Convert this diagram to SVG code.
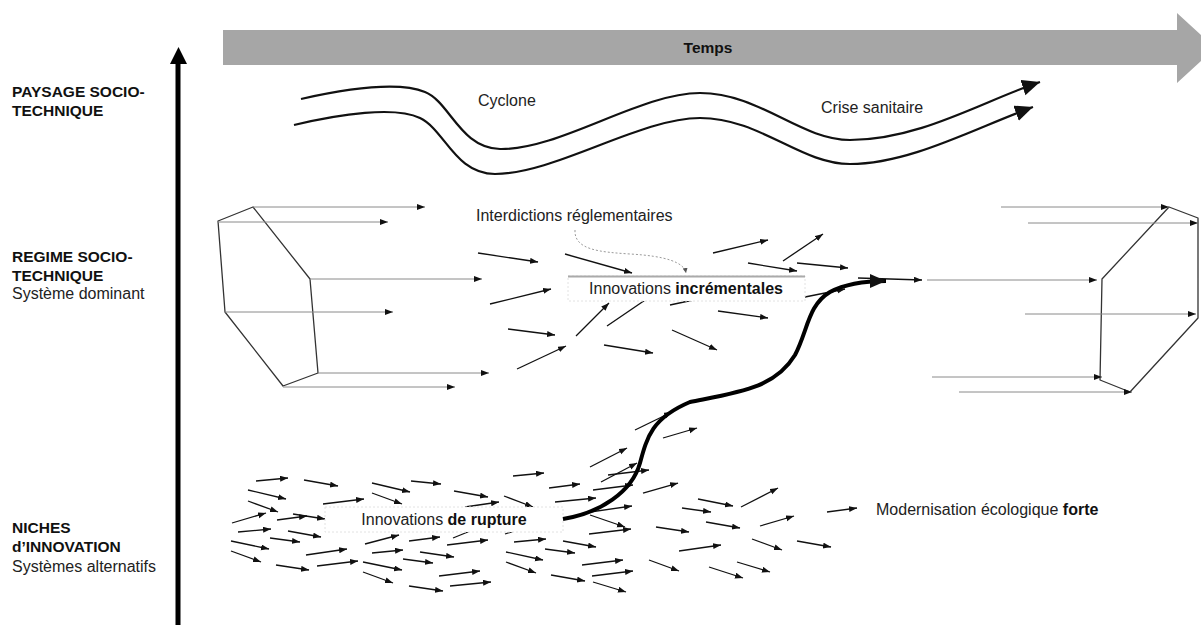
<svg xmlns="http://www.w3.org/2000/svg" width="1201" height="625" viewBox="0 0 1201 625">
  <style>
    .lbl { font-family: "Liberation Sans", Arial, sans-serif; fill: #111; }
    .hd { font-size: 15.5px; font-weight: bold; }
    .sub { font-size: 16px; fill: #222; }
    .txt { font-family: "Liberation Sans", Arial, sans-serif; font-size: 16px; fill: #222; }
    .b { font-weight: bold; fill: #111; }
    .wave { fill: none; stroke: #111; stroke-width: 2.2; marker-end: url(#bigHead); }
    .poly { fill: none; stroke: #333; stroke-width: 1.3; stroke-linejoin: round; }
    .feed { stroke: #8a8a8a; stroke-width: 1; marker-end: url(#smallHead); }
    .arr { stroke: #111; stroke-width: 1.3; marker-end: url(#smallHead); }
    .box { fill: #fff; stroke: #e2e2e2; stroke-width: 1; stroke-dasharray: 2 2; }
  </style>
  <defs>
    <marker id="smallHead" markerUnits="userSpaceOnUse" markerWidth="9" markerHeight="7" refX="8" refY="3" orient="auto">
      <path d="M0,0 L8,3 L0,6 z" fill="#111"/>
    </marker>
    <marker id="bigHead" markerUnits="userSpaceOnUse" markerWidth="19" markerHeight="17" refX="18" refY="8" orient="auto">
      <path d="M0,0 L18,8 L0,16 z" fill="#111"/>
    </marker>
    <marker id="thickHead" markerUnits="userSpaceOnUse" markerWidth="17" markerHeight="15" refX="16" refY="7" orient="auto">
      <path d="M0,0 L16,7 L0,14 z" fill="#111"/>
    </marker>
    <marker id="dotHead" markerUnits="userSpaceOnUse" markerWidth="6" markerHeight="6" refX="5" refY="2.5" orient="auto">
      <path d="M0,0 L5,2.5 L0,5 z" fill="#555"/>
    </marker>
  </defs>

  <!-- time axis -->
  <g id="timeline">
    <polygon points="223,30 1177,30 1177,13 1215,48 1177,83 1177,65 223,65" fill="#a6a6a6"/>
    <text class="lbl hd" x="708" y="53" text-anchor="middle">Temps</text>
  </g>

  <!-- vertical level axis -->
  <g id="level-axis">
    <line x1="178" y1="625" x2="178" y2="62" stroke="#000" stroke-width="5"/>
    <polygon points="170,64 187,64 178.5,47" fill="#000"/>
  </g>

  <!-- level labels -->
  <g id="label-landscape">
    <text class="lbl hd" x="12" y="97">PAYSAGE SOCIO-</text>
    <text class="lbl hd" x="12" y="116">TECHNIQUE</text>
  </g>
  <g id="label-regime">
    <text class="lbl hd" x="12" y="262">REGIME SOCIO-</text>
    <text class="lbl hd" x="12" y="281">TECHNIQUE</text>
    <text class="lbl sub" x="12" y="299">Système dominant</text>
  </g>
  <g id="label-niches">
    <text class="lbl hd" x="12" y="533">NICHES</text>
    <text class="lbl hd" x="12" y="552">d’INNOVATION</text>
    <text class="lbl sub" x="12" y="572">Systèmes alternatifs</text>
  </g>

  <!-- landscape pressures -->
  <g id="landscape">
    <path class="wave" d="M301,99 C350,88 400,82 425,92 C450,102 460,148 500,149 C560,150 640,93 700,93 C760,93 800,140 850,140 C920,140 985,100 1040,82"/>
    <path class="wave" d="M294,125 C340,114 395,106 420,118 C445,130 455,174 495,174 C555,174 640,118 700,118 C760,118 800,164 850,164 C910,164 975,128 1033,107"/>
    <text class="txt" x="478" y="106">Cyclone</text>
    <text class="txt" x="821" y="113">Crise sanitaire</text>
  </g>

  <!-- dominant regime, left block -->
  <g id="regime-left">
    <polygon class="poly" points="253,207 310,279 318,373 283,386 225,312 218,221"/>
  </g>
  <!-- dominant regime, right block -->
  <g id="regime-right">
    <polygon class="poly" points="1169,207 1198,218 1198,318 1130,392 1100,380 1102,279"/>
  </g>

  <g id="connectors">
    <!-- regime trajectories -->
    <line class="feed" x1="253" y1="207" x2="425" y2="207"/>
    <line class="feed" x1="218" y1="222" x2="388" y2="222"/>
    <line class="feed" x1="310" y1="279" x2="482" y2="279"/>
    <line class="feed" x1="225" y1="312" x2="393" y2="312"/>
    <line class="feed" x1="318" y1="373" x2="489" y2="373"/>
    <line class="feed" x1="283" y1="387" x2="455" y2="387"/>
    <line class="feed" x1="1001" y1="207" x2="1169" y2="207"/>
    <line class="feed" x1="1028" y1="223" x2="1198" y2="223"/>
    <line class="feed" x1="927" y1="280" x2="1097" y2="280"/>
    <line class="feed" x1="1025" y1="314" x2="1196" y2="314"/>
    <line class="feed" x1="932" y1="377" x2="1102" y2="377"/>
    <line class="feed" x1="959" y1="392" x2="1132" y2="392"/>

    <!-- incremental innovation moves -->
    <line class="arr" x1="478" y1="253" x2="538" y2="262"/>
    <line class="arr" x1="565" y1="254" x2="632" y2="273"/>
    <line class="arr" x1="713" y1="253" x2="768" y2="240"/>
    <line class="arr" x1="783" y1="261" x2="823" y2="234"/>
    <line class="arr" x1="748" y1="263" x2="797" y2="271"/>
    <line class="arr" x1="797" y1="263" x2="848" y2="268"/>
    <line class="arr" x1="490" y1="304" x2="551" y2="289"/>
    <line class="arr" x1="508" y1="329" x2="555" y2="335"/>
    <line class="arr" x1="576" y1="336" x2="609" y2="303"/>
    <line class="arr" x1="607" y1="326" x2="654" y2="294"/>
    <line class="arr" x1="670" y1="305" x2="712" y2="296"/>
    <line class="arr" x1="517" y1="369" x2="566" y2="346"/>
    <line class="arr" x1="604" y1="345" x2="653" y2="353"/>
    <line class="arr" x1="672" y1="330" x2="717" y2="350"/>
    <line class="arr" x1="718" y1="311" x2="768" y2="318"/>
    <line class="arr" x1="805" y1="297" x2="845" y2="289"/>
    <line class="arr" x1="858" y1="278" x2="922" y2="280"/>

    <!-- regulatory pressure -->
    <path d="M575,230 C574,250 600,252 630,254 C665,256 684,262 686,273" fill="none" stroke="#9a9a9a" stroke-width="1" stroke-dasharray="2 2" marker-end="url(#dotHead)"/>

    <!-- niche experiments -->
    <line class="arr" x1="256" y1="481" x2="288" y2="478"/>
    <line class="arr" x1="304" y1="480" x2="338" y2="486"/>
    <line class="arr" x1="372" y1="483" x2="410" y2="492"/>
    <line class="arr" x1="411" y1="481" x2="441" y2="484"/>
    <line class="arr" x1="513" y1="476" x2="544" y2="473"/>
    <line class="arr" x1="248" y1="490" x2="286" y2="499"/>
    <line class="arr" x1="248" y1="501" x2="278" y2="512"/>
    <line class="arr" x1="323" y1="504" x2="364" y2="499"/>
    <line class="arr" x1="372" y1="493" x2="402" y2="504"/>
    <line class="arr" x1="454" y1="491" x2="488" y2="497"/>
    <line class="arr" x1="504" y1="496" x2="533" y2="507"/>
    <line class="arr" x1="549" y1="488" x2="580" y2="484"/>
    <line class="arr" x1="593" y1="490" x2="633" y2="485"/>
    <line class="arr" x1="555" y1="502" x2="596" y2="498"/>
    <line class="arr" x1="465" y1="507" x2="499" y2="502"/>
    <line class="arr" x1="232" y1="523" x2="266" y2="513"/>
    <line class="arr" x1="277" y1="520" x2="307" y2="516"/>
    <line class="arr" x1="293" y1="514" x2="325" y2="519"/>
    <line class="arr" x1="238" y1="532" x2="271" y2="529"/>
    <line class="arr" x1="288" y1="531" x2="321" y2="537"/>
    <line class="arr" x1="270" y1="538" x2="300" y2="542"/>
    <line class="arr" x1="231" y1="541" x2="269" y2="549"/>
    <line class="arr" x1="231" y1="551" x2="261" y2="562"/>
    <line class="arr" x1="276" y1="565" x2="309" y2="570"/>
    <line class="arr" x1="306" y1="555" x2="347" y2="549"/>
    <line class="arr" x1="317" y1="566" x2="358" y2="561"/>
    <line class="arr" x1="365" y1="544" x2="399" y2="535"/>
    <line class="arr" x1="372" y1="553" x2="403" y2="550"/>
    <line class="arr" x1="363" y1="562" x2="402" y2="570"/>
    <line class="arr" x1="363" y1="572" x2="393" y2="583"/>
    <line class="arr" x1="409" y1="541" x2="440" y2="537"/>
    <line class="arr" x1="420" y1="552" x2="454" y2="557"/>
    <line class="arr" x1="403" y1="559" x2="433" y2="563"/>
    <line class="arr" x1="447" y1="545" x2="488" y2="540"/>
    <line class="arr" x1="453" y1="538" x2="485" y2="525"/>
    <line class="arr" x1="505" y1="534" x2="535" y2="524"/>
    <line class="arr" x1="439" y1="576" x2="480" y2="571"/>
    <line class="arr" x1="450" y1="586" x2="491" y2="582"/>
    <line class="arr" x1="409" y1="586" x2="443" y2="591"/>
    <line class="arr" x1="514" y1="542" x2="546" y2="539"/>
    <line class="arr" x1="506" y1="552" x2="543" y2="560"/>
    <line class="arr" x1="506" y1="562" x2="536" y2="573"/>
    <line class="arr" x1="545" y1="549" x2="575" y2="553"/>
    <line class="arr" x1="563" y1="541" x2="596" y2="547"/>
    <line class="arr" x1="551" y1="575" x2="585" y2="581"/>
    <line class="arr" x1="582" y1="565" x2="623" y2="560"/>
    <line class="arr" x1="592" y1="576" x2="633" y2="571"/>
    <line class="arr" x1="593" y1="582" x2="626" y2="592"/>
    <line class="arr" x1="589" y1="534" x2="631" y2="529"/>
    <line class="arr" x1="590" y1="467" x2="627" y2="448"/>
    <line class="arr" x1="601" y1="482" x2="637" y2="463"/>
    <line class="arr" x1="608" y1="475" x2="649" y2="470"/>
    <line class="arr" x1="590" y1="512" x2="632" y2="506"/>
    <line class="arr" x1="590" y1="515" x2="625" y2="527"/>
    <line class="arr" x1="635" y1="430" x2="672" y2="412"/>
    <line class="arr" x1="663" y1="438" x2="697" y2="428"/>
    <line class="arr" x1="643" y1="493" x2="678" y2="483"/>
    <line class="arr" x1="649" y1="560" x2="679" y2="571"/>
    <line class="arr" x1="656" y1="527" x2="689" y2="532"/>
    <line class="arr" x1="682" y1="508" x2="711" y2="512"/>
    <line class="arr" x1="698" y1="499" x2="733" y2="506"/>
    <line class="arr" x1="741" y1="507" x2="778" y2="488"/>
    <line class="arr" x1="706" y1="522" x2="740" y2="528"/>
    <line class="arr" x1="760" y1="526" x2="794" y2="516"/>
    <line class="arr" x1="679" y1="551" x2="721" y2="545"/>
    <line class="arr" x1="752" y1="539" x2="782" y2="550"/>
    <line class="arr" x1="797" y1="541" x2="831" y2="547"/>
    <line class="arr" x1="709" y1="567" x2="743" y2="578"/>
    <line class="arr" x1="737" y1="562" x2="770" y2="572"/>
    <line class="arr" x1="827" y1="512" x2="857" y2="508"/>
  </g>

  <!-- incremental innovations label -->
  <g id="node-incremental">
    <rect class="box" x="568" y="276" width="237" height="25"/>
    <line x1="568" y1="276.5" x2="805" y2="276.5" stroke="#aaa" stroke-width="2"/>
    <text class="txt" x="686" y="294" text-anchor="middle">Innovations <tspan class="b">incrémentales</tspan></text>
  </g>
  <g id="node-regulation">
    <text class="txt" x="476" y="221">Interdictions réglementaires</text>
  </g>

  <!-- breakthrough innovations label -->
  <g id="node-rupture">
    <rect class="box" x="325" y="507" width="238" height="25"/>
    <text class="txt" x="444" y="525" text-anchor="middle">Innovations <tspan class="b">de rupture</tspan></text>
  </g>
  <g id="node-modernisation">
    <text class="txt" x="876" y="515">Modernisation écologique <tspan class="b">forte</tspan></text>
  </g>

  <!-- breakthrough path into the regime -->
  <g id="breakthrough">
    <path d="M563,519 C600,513 632,492 640,463 C647,437 652,418 690,402 C740,392 775,388 795,355 C808,330 808,305 830,292 C845,284 862,281 886,281" fill="none" stroke="#000" stroke-width="4" marker-end="url(#thickHead)"/>
  </g>
</svg>
